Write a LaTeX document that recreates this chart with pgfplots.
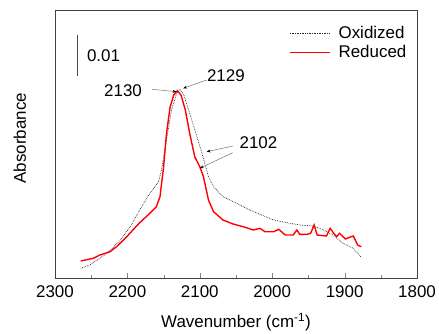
\documentclass[border=0pt]{standalone}
\usepackage{pgfplots}
\pgfplotsset{compat=1.18}
\usepackage{fontspec}
\setmainfont{Liberation Sans}
\usetikzlibrary{arrows.meta}
\begin{document}
\fontsize{17}{20}\selectfont
\begin{tikzpicture}[x=1bp,y=1bp]
\path[use as bounding box] (0,0) rectangle (439,333);
\begin{axis}[
  at={(55bp,55bp)}, anchor=south west,
  scale only axis, width=362bp, height=268bp,
  x dir=reverse, xmin=1800, xmax=2300, ymin=0, ymax=268,
  xtick={1800,1900,...,2300}, minor xtick={1850,1950,...,2250},
  xtick pos=bottom, ytick=\empty,
  tick align=inside, major tick length=5bp, minor tick length=3bp,
  axis line style={black!75, line width=0.8pt},
  /pgf/number format/assume math mode=true,
  /pgf/number format/1000 sep={},
  xticklabel style={yshift=-2bp},
  xlabel={Wavenumber (cm\textsuperscript{-1})},
  ylabel={Absorbance},
  xlabel style={at={(axis description cs:0.5,-0.164)}, anchor=center},
  ylabel style={at={(axis description cs:-0.097,0.522)}, anchor=center},
  legend style={at={(rel axis cs:0.985,0.955)}, anchor=north east, draw=none, fill=none,
    /tikz/every odd column/.append style={column sep=6bp}},
  legend cell align=left,
  legend image code/.code={\draw[#1] (0bp,0bp) -- (40bp,0bp);},
]
\addplot[black!85, densely dotted, line width=0.7pt] coordinates {
(2264.5,9.7) (2252,13) (2238,19.7) (2224,27.3) (2210,38) (2196,51.3) (2183,68)
(2169,84.7) (2157,96.3) (2153,108) (2146,138) (2139,168) (2132,184.7) (2127.3,188.7)
(2122,183) (2114,164.7) (2104,141.3) (2097,124.7) (2088,101.3) (2081,91.3) (2068,81.3)
(2049,74.7) (2031,68) (2017,63.7) (1998,58) (1980,55.3) (1962,53) (1943,52) (1929,48)
(1916,43) (1902,34.7) (1888,29.7) (1877,20.7)
};
\addlegendentry{Oxidized}
\addplot[red, line width=1.4pt] coordinates {
(2264.5,17) (2247,19.7) (2238,23) (2224,26.3) (2215,31.3) (2201,41.3) (2183,55.3)
(2169,64.7) (2160,71.3) (2155,81.3) (2150,111) (2146,144.7) (2141,171) (2136,183)
(2131,187.3) (2126,183) (2120,168) (2114,144.7) (2107,121.3) (2100,111.3) (2095,101.3)
(2088,78) (2081,66.3) (2068,58) (2054,54) (2040,51.3) (2026,48) (2017,49.7) (2010,46.3)
(1998,46.3) (1991,48.7) (1982,43) (1971,43) (1966,48) (1962,43.7) (1952,43.7) (1947,44.7)
(1942,53) (1938,43) (1925,42) (1920,49.7) (1915,44.7) (1911,41.3) (1907,44.7) (1899,39)
(1893,40.7) (1888,42) (1882,33) (1877,31.3)
};
\addlegendentry{Reduced}
% scale bar
\draw[black!70, line width=0.7pt] (axis cs:2269,202) -- (axis cs:2269,243);
\node[anchor=center] at (axis cs:2233,222.3) {0.01};
% annotations
\node at (axis cs:2206,187.3) {2130};
\draw[black!55, line width=0.5pt, -{Stealth[length=4pt,width=3pt,black]}] (axis cs:2166,188.7) -- (axis cs:2132,186.3);
\node at (axis cs:2064,202) {2129};
\draw[black!55, line width=0.5pt, -{Stealth[length=4pt,width=3pt,black]}] (axis cs:2090.5,198) -- (axis cs:2123,189.7);
\node at (axis cs:2019,135.3) {2102};
\draw[black!55, line width=0.5pt, -{Stealth[length=4pt,width=3pt,black]}] (axis cs:2054,132) -- (axis cs:2090.5,126.3);
\draw[black!55, line width=0.5pt, -{Stealth[length=4pt,width=3pt,black]}] (axis cs:2054.6,125.3) -- (axis cs:2100,109.7);
\end{axis}
\end{tikzpicture}
\end{document}
